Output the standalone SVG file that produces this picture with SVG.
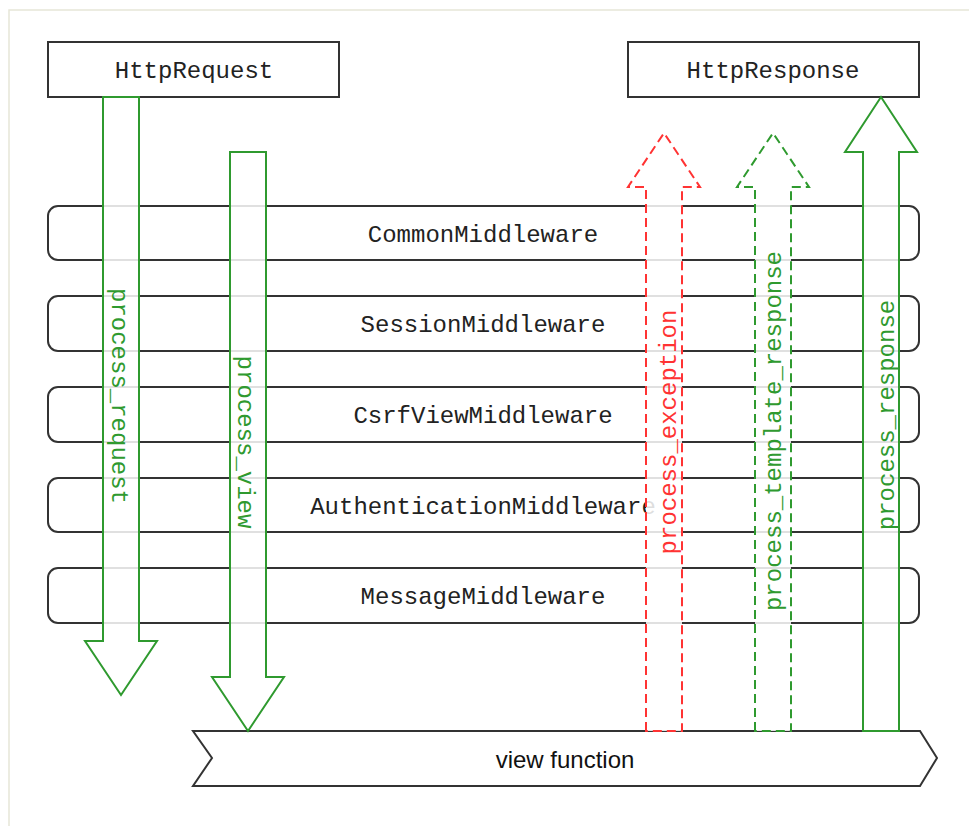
<svg xmlns="http://www.w3.org/2000/svg" width="969" height="826" viewBox="0 0 969 826">
<style>
.box{fill:#fff;stroke:#333;stroke-width:2}
.mono{font-family:"Liberation Mono","Courier New",monospace;font-size:24px}
.name{fill:#222;text-anchor:middle}
.arrow{fill:#fff;fill-opacity:0.85;stroke-width:2;stroke-linejoin:miter}
.green{stroke:#2f9a2f}
.red{stroke:#ff3333}
.dash{stroke-dasharray:9 5}
.lg{fill:#2f9a2f;text-anchor:middle}
.lr{fill:#ff3333;text-anchor:middle}
</style>
<rect x="0" y="0" width="969" height="826" fill="#fff"/>
<rect x="9" y="10" width="975" height="830" fill="none" stroke="#e6e6d8" stroke-width="1.5"/>
<g id="HttpRequest">
<rect class="box" x="48" y="42" width="291" height="55"/>
<text class="mono name" x="194" y="78">HttpRequest</text>
</g>
<g id="HttpResponse">
<rect class="box" x="628" y="42" width="291" height="55"/>
<text class="mono name" x="773" y="78">HttpResponse</text>
</g>
<g id="CommonMiddleware">
<rect class="box" x="48" y="206" width="871" height="54" rx="10"/>
<text class="mono name" x="483" y="242">CommonMiddleware</text>
</g>
<g id="SessionMiddleware">
<rect class="box" x="48" y="296" width="871" height="55" rx="10"/>
<text class="mono name" x="483" y="332">SessionMiddleware</text>
</g>
<g id="CsrfViewMiddleware">
<rect class="box" x="48" y="387" width="871" height="55" rx="10"/>
<text class="mono name" x="483" y="423">CsrfViewMiddleware</text>
</g>
<g id="AuthenticationMiddleware">
<rect class="box" x="48" y="478" width="871" height="54" rx="10"/>
<text class="mono name" x="483" y="514">AuthenticationMiddleware</text>
</g>
<g id="MessageMiddleware">
<rect class="box" x="48" y="568" width="871" height="55" rx="10"/>
<text class="mono name" x="483" y="604">MessageMiddleware</text>
</g>
<g id="view-function">
<polygon class="box" points="193,731 920,731 937,758 920,786 193,786 212,758"/>
<text x="565" y="768" font-family="Liberation Sans, Arial, sans-serif" font-size="24" fill="#111" text-anchor="middle">view function</text>
</g>
<g id="connectors">
<g id="process_request">
<polygon class="arrow green" points="103,97 139,97 139,641 157,641 121,695 85,641 103,641"/>
<text class="mono lg" transform="translate(112,396) rotate(90)">process_request</text>
</g>
<g id="process_view">
<polygon class="arrow green" points="230,152 266,152 266,677 284,677 248,731 212,677 230,677"/>
<text class="mono lg" transform="translate(238,442) rotate(90)">process_view</text>
</g>
<g id="process_exception">
<polygon class="arrow red dash" points="646,731 646,187 628,187 664,133 700,187 682,187 682,731"/>
<text class="mono lr" transform="translate(676,432) rotate(-90)">process_exception</text>
</g>
<g id="process_template_response">
<polygon class="arrow green dash" points="755,731 755,187 737,187 773,133 809,187 791,187 791,731"/>
<text class="mono lg" transform="translate(781,431) rotate(-90)">process_template_response</text>
</g>
<g id="process_response">
<polygon class="arrow green" points="863,731 863,152 845,152 881,97 917,152 899,152 899,731"/>
<text class="mono lg" transform="translate(894,415) rotate(-90)">process_response</text>
</g>
</g>
</svg>
